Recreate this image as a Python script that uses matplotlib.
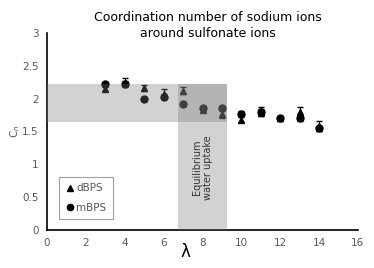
import numpy as np
import matplotlib.pyplot as plt
from matplotlib.lines import Line2D

lam = [3, 4, 5, 6, 7, 8, 9, 10, 11, 12, 13, 14]
cn_dbps = [2.15, 2.24, 2.16, 2.07, 2.12, 1.83, 1.76, 1.68, 1.80, 1.70, 1.80, 1.58]
err_dbps = [0.03, 0.07, 0.05, 0.07, 0.05, 0.03, 0.05, 0.04, 0.07, 0.04, 0.08, 0.08]
cn_mbps = [2.22, 2.23, 2.00, 2.03, 1.92, 1.85, 1.86, 1.77, 1.79, 1.71, 1.70, 1.55]
err_mbps = [0.03, 0.04, 0.03, 0.04, 0.03, 0.04, 0.03, 0.04, 0.05, 0.03, 0.04, 0.04]

band_x = [6.75, 9.25]
band_y = [1.65, 2.22]

txt = '#595959'

fig = plt.figure(figsize=(3.74, 2.68), dpi=100)
ax = fig.add_axes([0.126, 0.142, 0.831, 0.735])

ax.errorbar(lam, cn_dbps, yerr=err_dbps, fmt='^', color='black', ms=5,
            elinewidth=0.8, capsize=2.5, zorder=2)
ax.errorbar(lam, cn_mbps, yerr=err_mbps, fmt='o', color='black', ms=5,
            elinewidth=0.8, capsize=2.5, zorder=2)

# shaded regions drawn on top of points
ax.axhspan(band_y[0], band_y[1], xmin=0, xmax=band_x[1] / 16,
           color='#777777', alpha=0.33, lw=0, zorder=3)
ax.fill_between(band_x, 0, band_y[1], color='#777777', alpha=0.33, lw=0, zorder=3)
ax.text(np.mean(band_x), 0.95, 'Equilibrium\nwater uptake', rotation=90,
        ha='center', va='center', fontsize=7, color='#333333', zorder=4)

ax.set_xlim(0, 16)
ax.set_ylim(0, 3)
ax.set_xticks(range(0, 17, 2))
ax.set_yticks([0, 0.5, 1, 1.5, 2, 2.5, 3])
ax.set_yticklabels(['0', '0.5', '1', '1.5', '2', '2.5', '3'])
ax.tick_params(length=0, labelsize=7.5, colors=txt, pad=6)
for s in ['top', 'right']:
    ax.spines[s].set_visible(False)
ax.spines['left'].set_linewidth(1.2)
ax.spines['bottom'].set_linewidth(1.2)

ax.text(7.1, -0.065, 'λ', transform=ax.get_xaxis_transform(),
        ha='center', va='top', fontsize=12, color='black')
ax.set_ylabel('C$_n$', fontsize=7.5, color=txt, labelpad=0)

handles = [Line2D([], [], marker='^', color='black', ls='none', ms=4.5),
           Line2D([], [], marker='o', color='black', ls='none', ms=4.5)]
leg = ax.legend(handles, ['dBPS', 'mBPS'], loc='lower left',
                bbox_to_anchor=(0.02, 0.03), fontsize=7.5,
                frameon=True, fancybox=False, handletextpad=0.1,
                handlelength=1, borderpad=0.6, labelspacing=0.9)
leg.get_frame().set_edgecolor('#888888')
leg.get_frame().set_linewidth(0.8)
for t in leg.get_texts():
    t.set_color(txt)

fig.text(0.556, 0.905, 'Coordination number of sodium ions\naround sulfonate ions',
         ha='center', va='center', fontsize=9, color='black', linespacing=1.25)

fig.savefig('out.png', dpi=100)
